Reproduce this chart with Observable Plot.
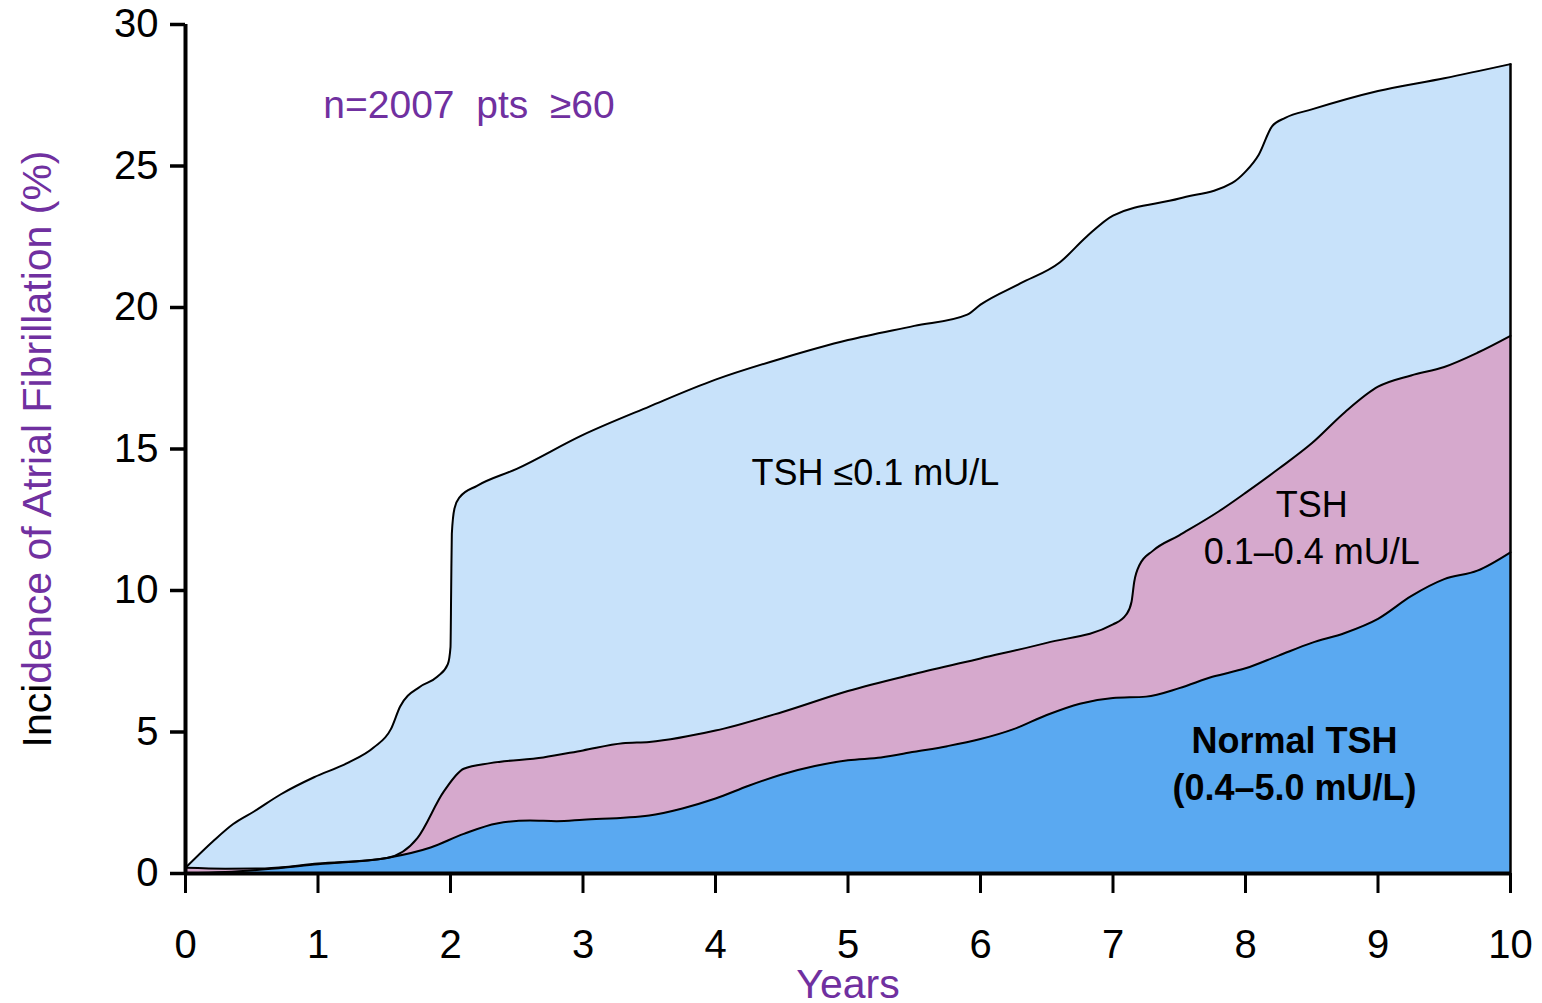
<!DOCTYPE html>
<html>
<head>
<meta charset="utf-8">
<script src="https://cdn.jsdelivr.net/npm/d3@7"></script>
<script src="https://cdn.jsdelivr.net/npm/@observablehq/plot@0.6"></script>
<style>
  html, body { margin: 0; padding: 0; background: #fff; }
</style>
</head>
<body>
<div id="chart"></div>
<script>
// Cumulative incidence curves (%)
const tshLowYears = [0, 0.21, 0.36, 0.52, 0.72, 0.97, 1.22, 1.42, 1.55, 1.62, 1.77, 1.9, 1.98, 2.0, 2.005, 2.01, 2.03, 2.07, 2.2, 2.5, 3.0, 3.5, 4.0, 4.5, 5.0, 5.5, 5.9, 6.0, 6.3, 6.6, 6.8, 7.0, 7.5, 7.9, 8.0, 8.1, 8.2, 8.3, 8.5, 9.0, 9.5, 10];
const tshLowValues = [0.2, 1.15, 1.75, 2.2, 2.8, 3.4, 3.9, 4.45, 5.1, 5.9, 6.6, 6.95, 7.4, 8.0, 10.0, 12.0, 12.9, 13.3, 13.7, 14.3, 15.5, 16.5, 17.45, 18.2, 18.85, 19.35, 19.75, 20.1, 20.85, 21.6, 22.5, 23.25, 23.85, 24.4, 24.8, 25.4, 26.4, 26.7, 27.0, 27.65, 28.1, 28.6];

const tshMidYears = [0, 0.3, 0.6, 1.0, 1.52, 1.75, 1.95, 2.1, 2.3, 2.7, 3.0, 3.3, 3.5, 4.0, 4.5, 5.0, 5.5, 6.0, 6.5, 7.0, 7.1, 7.14, 7.16, 7.2, 7.3, 7.5, 7.8, 8.0, 8.25, 8.5, 8.75, 9.0, 9.25, 9.5, 9.75, 10];
const tshMidValues = [0.2, 0.17, 0.18, 0.35, 0.55, 1.25, 2.9, 3.7, 3.9, 4.1, 4.35, 4.6, 4.65, 5.05, 5.7, 6.45, 7.05, 7.6, 8.15, 8.8, 9.15, 9.6, 10.3, 10.9, 11.4, 11.95, 12.8, 13.45, 14.3, 15.2, 16.3, 17.2, 17.6, 17.9, 18.4, 19.0];

const normalYears = [0, 0.3, 0.6, 1.0, 1.52, 1.85, 2.1, 2.35, 2.6, 2.8, 3.0, 3.5, 3.75, 4.0, 4.25, 4.5, 4.75, 5.0, 5.25, 5.5, 5.75, 6.0, 6.25, 6.5, 6.75, 7.0, 7.25, 7.5, 7.75, 8.0, 8.25, 8.5, 8.75, 9.0, 9.25, 9.5, 9.75, 10];
const normalValues = [0, 0.05, 0.15, 0.33, 0.55, 0.92, 1.4, 1.77, 1.87, 1.85, 1.9, 2.05, 2.3, 2.65, 3.1, 3.5, 3.8, 4.0, 4.1, 4.3, 4.5, 4.75, 5.1, 5.6, 6.0, 6.2, 6.25, 6.55, 6.95, 7.25, 7.7, 8.15, 8.5, 9.0, 9.8, 10.4, 10.7, 11.35];

const xTicks = [0, 1, 2, 3, 4, 5, 6, 7, 8, 9, 10];
const yTicks = [0, 5, 10, 15, 20, 25, 30];

const seriesColors = ["#c8e2fa", "#d6a9cd", "#5aa9f1"];
const purple = "#7030a0";

const noteLabel = [{x: 1.04, y: 27.14, text: "n=2007\u00A0 pts\u00A0 ≥60"}];
const regularLabels = [
  {x: 5.207, y: 14.15, text: "TSH ≤0.1 mU/L"},
  {x: 8.5, y: 12.99, text: "TSH"},
  {x: 8.5, y: 11.36, text: "0.1–0.4 mU/L"}
];
const boldLabels = [
  {x: 8.37, y: 4.68, text: "Normal TSH"},
  {x: 8.37, y: 3.0, text: "(0.4–5.0 mU/L)"}
];
const yTitleParts = ["Inci", "dence of Atrial Fibrillation (%)"];
const xTitle = "Years";

const toRows = (xs, ys) => xs.map((x, i) => ({x, y: ys[i]}));
const lowRows = toRows(tshLowYears, tshLowValues);
const midRows = toRows(tshMidYears, tshMidValues);
const normRows = toRows(normalYears, normalValues);

const curve = "monotone-x";
const sans = "'Liberation Sans', Arial, Helvetica, sans-serif";

const chart = Plot.plot({
  width: 1542,
  height: 1003,
  marginLeft: 185,
  marginRight: 32,
  marginTop: 24,
  marginBottom: 130,
  style: {fontFamily: sans, background: "#fff", overflow: "visible"},
  x: {domain: [0, 10], axis: null},
  y: {domain: [0, 30], axis: null},
  marks: [
    Plot.areaY(lowRows, {x: "x", y1: 0, y2: "y", fill: seriesColors[0], curve}),
    Plot.areaY(midRows, {x: "x", y1: 0, y2: "y", fill: seriesColors[1], curve}),
    Plot.areaY(normRows, {x: "x", y1: 0, y2: "y", fill: seriesColors[2], curve}),
    Plot.line(lowRows, {x: "x", y: "y", stroke: "#000", strokeWidth: 2, curve}),
    Plot.line(midRows, {x: "x", y: "y", stroke: "#000", strokeWidth: 2, curve}),
    Plot.line(normRows, {x: "x", y: "y", stroke: "#000", strokeWidth: 2, curve}),
    Plot.ruleX([tshLowYears[tshLowYears.length - 1]], {y1: 0, y2: tshLowValues[tshLowValues.length - 1], stroke: "#000", strokeWidth: 2.5}),
    Plot.axisY({ticks: yTicks, label: null, tickSize: 15, tickPadding: 12, fontSize: 40, strokeWidth: 3.5, fill: "#000"}),
    Plot.axisX({ticks: xTicks, label: null, tickSize: 20, tickPadding: 36, fontSize: 40, strokeWidth: 3, fill: "#000"}),
    Plot.ruleX([0], {y1: 0, y2: 30, stroke: "#000", strokeWidth: 4}),
    Plot.ruleY([0], {x1: 0, x2: 10, stroke: "#000", strokeWidth: 4}),
    Plot.text(noteLabel, {x: "x", y: "y", text: "text", textAnchor: "start", fill: purple, fontSize: 39, fontFamily: sans}),
    Plot.text(regularLabels, {x: "x", y: "y", text: "text", textAnchor: "middle", fill: "#000", fontSize: 36, fontFamily: sans}),
    Plot.text(boldLabels, {x: "x", y: "y", text: "text", textAnchor: "middle", fill: "#000", fontWeight: "bold", fontSize: 36, fontFamily: sans}),
    Plot.text([yTitleParts.join("")], {frameAnchor: "left", textAnchor: "middle", lineAnchor: "middle", rotate: -90, dx: -148, fill: purple, fontSize: 41, fontFamily: sans}),
    Plot.text([xTitle], {frameAnchor: "bottom", textAnchor: "middle", lineAnchor: "middle", dy: 111, fill: purple, fontSize: 41, fontFamily: sans})
  ]
});

// colour the first letters of the y title black, as in the reference
d3.select(chart).selectAll("text")
  .filter(function () { return this.textContent === yTitleParts.join(""); })
  .each(function () {
    const t = d3.select(this);
    t.text(null);
    t.append("tspan").attr("fill", "#000").text(yTitleParts[0]);
    t.append("tspan").text(yTitleParts[1]);
  });

document.getElementById("chart").appendChild(chart);
</script>
</body>
</html>
